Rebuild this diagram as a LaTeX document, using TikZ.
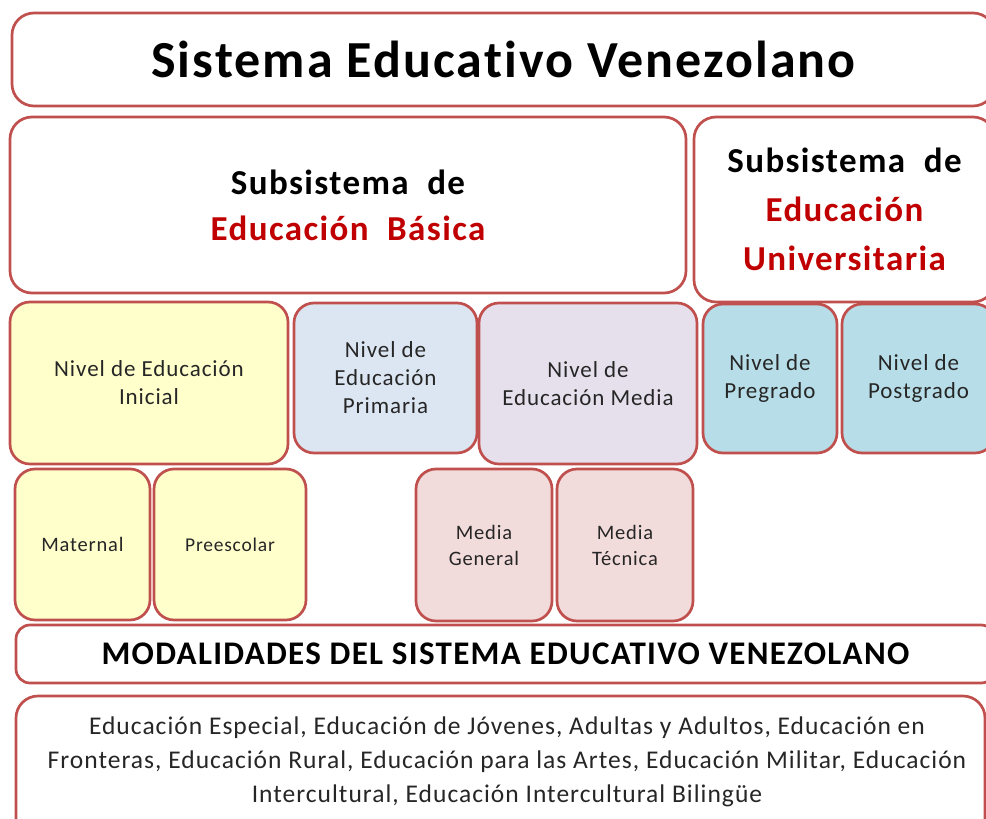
\documentclass[tikz,border=0pt]{standalone}
\usepackage{fontspec}
\setmainfont{Carlito}[LetterSpace=4, Ligatures=NoCommon]

\definecolor{borde}{HTML}{C0504D}
\definecolor{rojotexto}{HTML}{C00000}
\definecolor{amarillo}{HTML}{FFFFCC}
\definecolor{azulgris}{HTML}{DCE6F2}
\definecolor{lila}{HTML}{E6E0EC}
\definecolor{rosa}{HTML}{F2DCDB}
\definecolor{celeste}{HTML}{B7DEE8}

\tikzset{
  caja/.style={draw=borde, line width=2.7pt, rounded corners=22pt, fill=white,
    inner sep=0pt, align=center},
  nivel/.style={caja, rounded corners=20pt, text=black!85,
    font=\fontsize{23}{28}\selectfont},
  subsis/.style={font=\bfseries\fontsize{35}{46}\selectfont},
}

\begin{document}
\begin{tikzpicture}[x=1pt, y=-1pt]
  \useasboundingbox (0,0) rectangle (986,819);

  % titulo general
  \node[caja, minimum width=983pt, minimum height=93pt,
    font=\bfseries\fontsize{52}{56}\selectfont] (titulo) at (503.5,59.5)
    {Sistema Educativo Venezolano};

  % subsistemas
  \node[caja, subsis, minimum width=676pt, minimum height=176pt] (basica) at (348,205)
    {Subsistema\ \ de\\ \textcolor{rojotexto}{Educación\ \ Básica}};
  \node[caja, subsis, minimum width=301pt, minimum height=185pt,
    font=\bfseries\fontsize{35}{49}\selectfont] (univ) at (844.5,209.5)
    {Subsistema\ \ de\\ \textcolor{rojotexto}{Educación}\\ \textcolor{rojotexto}{Universitaria}};

  % niveles
  \node[nivel, fill=amarillo, minimum width=278pt, minimum height=162pt] (inicial) at (149,383)
    {Nivel de Educación\\ Inicial};
  \node[nivel, fill=azulgris, minimum width=183pt, minimum height=150pt] (primaria) at (385.5,378)
    {Nivel de\\ Educación\\ Primaria};
  \node[nivel, fill=lila, minimum width=218pt, minimum height=161pt] (media) at (588,383.5)
    {Nivel de\\ Educación Media};
  \node[nivel, fill=celeste, minimum width=134pt, minimum height=149pt] (pregrado) at (770,378.5)
    {Nivel de\\ Pregrado};
  \node[nivel, fill=celeste, minimum width=153pt, minimum height=149pt] (postgrado) at (918.5,378.5)
    {Nivel de\\ Postgrado};

  % etapas
  \node[nivel, fill=amarillo, minimum width=135pt, minimum height=151pt,
    font=\fontsize{20.5}{26}\selectfont] (maternal) at (82.5,544.5) {Maternal};
  \node[nivel, fill=amarillo, minimum width=152pt, minimum height=151pt,
    font=\fontsize{19.5}{26}\selectfont] (preescolar) at (230,544.5) {Preescolar};
  \node[nivel, fill=rosa, minimum width=136pt, minimum height=152pt,
    font=\fontsize{20.5}{26}\selectfont] (mgeneral) at (484,545) {Media\\ General};
  \node[nivel, fill=rosa, minimum width=136pt, minimum height=152pt,
    font=\fontsize{20.5}{26}\selectfont] (mtecnica) at (625,545) {Media\\ Técnica};

  % modalidades
  \node[caja, rounded corners=14pt, minimum width=979pt, minimum height=58pt,
    font=\bfseries\fontsize{33}{36}\selectfont] (modal) at (505.5,654)
    {MODALIDADES DEL SISTEMA EDUCATIVO VENEZOLANO};
  \node[caja, minimum width=969pt, minimum height=144pt] (lista) at (500.5,768) {};
  \node[align=center, text=black!85, font=\fontsize{25.5}{34}\selectfont] (listatexto) at (507,762)
    {Educación Especial, Educación de Jóvenes, Adultas y Adultos, Educación en\\
     Fronteras, Educación Rural, Educación para las Artes, Educación Militar, Educación\\
     Intercultural, Educación Intercultural Bilingüe};
\end{tikzpicture}
\end{document}
